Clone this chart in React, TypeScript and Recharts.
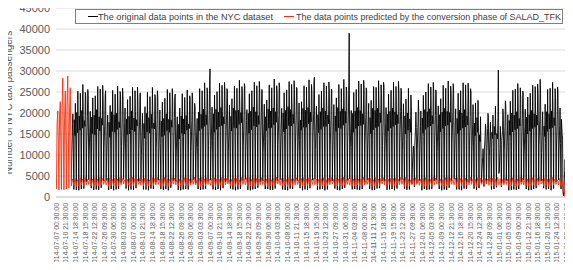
import { LineChart, Line, XAxis, YAxis, CartesianGrid } from 'recharts';

// x axis labels, one every 93 hours starting 2014-07-07 00:30
const tickLabels = [
    '2014-07-07 00:30:00', '2014-07-10 21:30:00', '2014-07-14 18:30:00', '2014-07-18 15:30:00',
    '2014-07-22 12:30:00', '2014-07-26 09:30:00', '2014-07-30 06:30:00', '2014-08-03 03:30:00',
    '2014-08-07 00:30:00', '2014-08-10 21:30:00', '2014-08-14 18:30:00', '2014-08-18 15:30:00',
    '2014-08-22 12:30:00', '2014-08-26 09:30:00', '2014-08-30 06:30:00', '2014-09-03 03:30:00',
    '2014-09-07 00:30:00', '2014-09-10 21:30:00', '2014-09-14 18:30:00', '2014-09-18 15:30:00',
    '2014-09-22 12:30:00', '2014-09-26 09:30:00', '2014-09-30 06:30:00', '2014-10-04 03:30:00',
    '2014-10-08 00:30:00', '2014-10-11 21:30:00', '2014-10-15 18:30:00', '2014-10-19 15:30:00',
    '2014-10-23 12:30:00', '2014-10-27 09:30:00', '2014-10-31 06:30:00', '2014-11-04 03:30:00',
    '2014-11-08 00:30:00', '2014-11-11 21:30:00', '2014-11-15 18:30:00', '2014-11-19 15:30:00',
    '2014-11-23 12:30:00', '2014-11-27 09:30:00', '2014-12-01 06:30:00', '2014-12-05 03:30:00',
    '2014-12-09 00:30:00', '2014-12-12 21:30:00', '2014-12-16 18:30:00', '2014-12-20 15:30:00',
    '2014-12-24 12:30:00', '2014-12-28 09:30:00', '2015-01-01 06:30:00', '2015-01-05 03:30:00',
    '2015-01-09 00:30:00', '2015-01-12 21:30:00', '2015-01-16 18:30:00', '2015-01-20 15:30:00',
    '2015-01-24 12:30:00', '2015-01-28 09:30:00',
];
const tickStepHours = 93;
const totalDays = 208;

const yTicks = [0, 5000, 10000, 15000, 20000, 25000, 30000, 35000, 40000, 45000];

// original series, estimated per day (Mon..Sun per line) at 05:00, 09:00, 16:00, 19:30, 23:30
const origHours = [5, 9, 16, 19.5, 23.5];

const origTrough = [
    null, null, null, null, null, null, 3900,
    1800, 1700, 1600, 1900, 2000, 3600, 4100,
    2100, 1700, 1800, 1700, 2200, 3800, 3900,
    1700, 1900, 1600, 1800, 1900, 3400, 4200,
    2000, 1600, 1800, 1700, 2100, 3700, 3800,
    1800, 1800, 1600, 2000, 1900, 3500, 4000,
    1900, 1700, 1900, 1600, 2200, 3900, 3700,
    1700, 1600, 1800, 1900, 1800, 3300, 4100,
    3300, 1900, 1700, 1800, 2000, 3800, 4000,
    1800, 1700, 1900, 1600, 2100, 3600, 3900,
    2000, 1800, 1600, 1800, 1900, 3900, 4200,
    1700, 1600, 1800, 1900, 2200, 3500, 3800,
    1900, 1900, 1700, 1700, 2000, 3800, 4100,
    1800, 1700, 1600, 2000, 1900, 3700, 3900,
    2100, 1600, 1800, 1700, 2100, 4000, 4200,
    1700, 1800, 1900, 1600, 1800, 3600, 3800,
    2000, 1700, 1600, 1900, 2200, 3900, 4300,
    1800, 1900, 1800, 1700, 1900, 3500, 4000,
    1900, 1600, 1700, 2000, 2100, 3800, 3700,
    1700, 1800, 1900, 1600, 2000, 3700, 4100,
    2000, 1700, 1800, 3100, 2400, 3300, 3900,
    1600, 1900, 1700, 1800, 1900, 3800, 4000,
    1900, 1600, 1800, 1700, 2200, 3900, 4200,
    1800, 1800, 1600, 2000, 1900, 3600, 3800,
    2000, 1700, 2100, 3300, 2500, 3200, 3700,
    1800, 1900, 2300, 5600, 2400, 3400, 3900,
    1600, 1700, 1800, 1700, 1900, 3500, 4000,
    1900, 1600, 1700, 1900, 2100, 3700, 3800,
    2100, 1800, 1900, 1600, 2000, 3600, 4100,
    1900, 300, 1400, 1800, 1900,
];

const origMorning = [
    null, null, null, null, null, null, 10300,
    18400, 20100, 19300, 20600, 18200, 12400, 10100,
    19000, 19500, 20800, 19100, 18700, 11600, 9700,
    17800, 20300, 19600, 19900, 17900, 12000, 10500,
    18600, 19200, 20500, 18800, 18400, 11300, 9900,
    17500, 19900, 18900, 19700, 17600, 11800, 10200,
    18100, 18700, 19800, 18500, 18300, 11100, 9400,
    17300, 19300, 18600, 19400, 17400, 10900, 9800,
    9900, 20200, 19700, 20900, 19600, 12300, 10400,
    19800, 20900, 20200, 21300, 19100, 12600, 10900,
    19200, 21200, 20600, 20700, 20100, 12200, 11100,
    19900, 20400, 21400, 20300, 19400, 12900, 10600,
    19100, 21000, 20500, 21200, 20300, 12500, 11200,
    20000, 20600, 21500, 20800, 19700, 13100, 10800,
    18300, 21100, 20700, 21300, 20200, 12700, 11300,
    19600, 20300, 21200, 20500, 19500, 12400, 10700,
    19300, 21300, 20400, 21000, 20400, 13000, 11000,
    19900, 20500, 21300, 20600, 19800, 12600, 11400,
    18900, 21100, 20600, 21100, 20000, 12300, 10600,
    19700, 20400, 21200, 20300, 19600, 12800, 11100,
    19300, 20000, 18600, 6500, 12200, 11400, 10000,
    18800, 20800, 20300, 21000, 19400, 12500, 10800,
    19600, 20200, 21100, 20400, 20100, 12900, 10500,
    18700, 20700, 20000, 20800, 19300, 12200, 10900,
    17600, 18900, 14800, 5900, 11200, 10700, 9600,
    15400, 16800, 15100, 6200, 13500, 11000, 10300,
    18200, 20000, 19500, 20300, 18700, 11700, 10000,
    19000, 19600, 20600, 19800, 19500, 12300, 10600,
    16900, 20300, 19800, 20500, 18900, 11900, 10200,
    18500, 1400, 16400, 19900, 18600,
];

const origAfternoon = [
    null, null, null, null, null, null, 17200,
    14600, 15300, 15900, 16400, 16800, 19100, 17400,
    15100, 14800, 16200, 15700, 17100, 18600, 16900,
    14200, 15600, 15400, 16100, 16500, 19300, 17700,
    14900, 15000, 16000, 15600, 16900, 18800, 16600,
    14000, 15500, 15200, 16300, 16200, 18400, 17100,
    14400, 14700, 15800, 15400, 16600, 18900, 16400,
    13800, 15200, 15000, 15900, 16300, 18200, 17800,
    16200, 15800, 16300, 16800, 17200, 19600, 17600,
    15400, 16100, 16700, 17000, 17400, 19900, 17900,
    15700, 16500, 16400, 17300, 17700, 19400, 18200,
    15200, 16000, 16900, 16700, 17300, 20100, 17500,
    15800, 16400, 16500, 17200, 17800, 19700, 18000,
    15500, 16200, 17000, 16900, 17500, 20200, 18300,
    15900, 16600, 16600, 17400, 17900, 19800, 17700,
    15300, 16100, 16800, 16800, 17400, 19500, 18100,
    15600, 16500, 16300, 17100, 17600, 20000, 17400,
    15400, 16300, 16900, 17000, 17300, 19600, 18400,
    15100, 16000, 16500, 16800, 17700, 19300, 17800,
    15700, 16400, 16800, 17200, 17500, 20300, 18000,
    15000, 15900, 15400, 10800, 16600, 17900, 16800,
    15200, 16100, 16600, 16900, 17400, 19400, 17600,
    15500, 16300, 16900, 17100, 17800, 20100, 18200,
    15100, 15900, 16400, 16700, 17200, 19200, 17300,
    14600, 15400, 13200, 9400, 14500, 16300, 15200,
    13900, 14800, 13800, 11500, 15800, 17400, 15900,
    14700, 15500, 16000, 16300, 16900, 18700, 16800,
    15000, 15700, 16300, 16600, 17100, 19000, 17200,
    14400, 15600, 16200, 16500, 17000, 18800, 17000,
    14800, 6300, 15600, 16400, 16900,
];

const origPeak = [
    null, null, null, null, null, null, 19800,
    22300, 25200, 24700, 26800, 24900, 25600, 20400,
    23600, 24100, 26300, 25700, 26600, 24300, 19500,
    21800, 25400, 24500, 26400, 25100, 25900, 21200,
    23200, 24000, 26100, 25300, 26200, 24600, 19900,
    21500, 24900, 23900, 26100, 24400, 25300, 20700,
    22600, 23500, 25600, 24800, 25800, 23900, 19100,
    21200, 24600, 23700, 25500, 24100, 24800, 22300,
    18700, 25800, 25300, 27200, 26000, 26500, 21400,
    24300, 25100, 27100, 26600, 27300, 25800, 21900,
    23400, 26400, 25900, 27800, 26300, 27000, 20800,
    24600, 25300, 27300, 26500, 27500, 25600, 22100,
    23100, 26700, 26000, 28100, 26500, 27200, 21100,
    24800, 25500, 27500, 26800, 27700, 26100, 22400,
    22700, 26500, 26200, 27900, 26800, 27400, 21600,
    24400, 25200, 27200, 26400, 27400, 25700, 22000,
    23600, 26800, 25800, 28000, 26200, 27100, 20600,
    24900, 25600, 27600, 26900, 27800, 26000, 22300,
    23000, 26300, 26100, 27700, 26700, 27300, 21300,
    24500, 25400, 27400, 26300, 27500, 25900, 22200,
    23300, 25900, 24300, 12100, 20200, 23100, 20500,
    24200, 25000, 27000, 26200, 27300, 25500, 21700,
    23400, 26600, 25900, 27600, 26400, 27000, 21000,
    24700, 25300, 27200, 26700, 27100, 25800, 22000,
    22400, 23000, 19100, 11500, 17400, 19900, 17800,
    19500, 21600, 18900, 16800, 21000, 22900, 19600,
    22800, 25400, 25700, 27000, 26000, 25200, 20900,
    23800, 24700, 26600, 26300, 26900, 28000, 20300,
    22100, 25600, 25900, 27300, 25800, 26200, 21200,
    14600, 8900, 24300, 26200, 25500,
];

const origNight = [
    null, null, null, null, null, null, 12400,
    13600, 15000, 17400, 19400, 24100, 24200, 12900,
    12900, 16100, 16800, 20600, 23500, 25300, 12300,
    13800, 14800, 17600, 19100, 24400, 23900, 13100,
    12700, 15900, 16600, 20300, 23300, 24800, 12100,
    13500, 14600, 17100, 19000, 23900, 23700, 12800,
    12400, 15500, 16200, 19800, 22800, 24500, 11900,
    13200, 14400, 16900, 18800, 23600, 23500, 21200,
    11800, 16400, 17800, 20900, 24600, 30500, 13400,
    14500, 15900, 18400, 20400, 25300, 25200, 13000,
    13800, 16900, 17600, 21500, 24700, 26300, 14100,
    14700, 16100, 18600, 20600, 25500, 25400, 13300,
    13900, 17000, 17700, 21400, 24900, 26100, 14200,
    14900, 16300, 18800, 20800, 25600, 25700, 13500,
    13700, 16800, 17500, 21300, 24800, 28500, 14000,
    14600, 16200, 18500, 20700, 25400, 25500, 13400,
    13800, 16900, 17600, 21600, 24900, 39000, 11800,
    14800, 16400, 18700, 20900, 25700, 25600, 13600,
    13600, 16700, 17400, 21200, 24600, 26400, 14100,
    14500, 16100, 18600, 20500, 25300, 25300, 13200,
    13700, 16500, 21500, 10200, 16500, 19800, 12400,
    14400, 16000, 18300, 20600, 25200, 25100, 13300,
    13500, 16800, 17300, 21400, 24700, 26200, 13900,
    14300, 15900, 18500, 20300, 25000, 25000, 13100,
    13000, 15600, 11200, 9600, 15900, 19000, 11500,
    11800, 14500, 30200, 12500, 19500, 21800, 12100,
    13200, 15700, 16700, 20200, 23600, 24900, 12600,
    13900, 15400, 17600, 19900, 24300, 24600, 13300,
    12800, 16000, 16900, 20400, 23700, 25100, 12700,
    1100, 7800, 16600, 20000, 23300,
];

// predicted series, estimated per day at 05:00, 11:00 and 18:00
const predHours = [5, 11, 18];

const predLow = [
    1900, 1700, 1800, 1700, 1900, 2100, 2600,
    2700, 2500, 2600, 2800, 2500, 2900, 3000,
    2600, 2500, 2700, 2600, 2800, 3000, 2900,
    2500, 2700, 2600, 2500, 2700, 2900, 3100,
    2600, 2800, 2500, 2700, 2600, 3000, 2800,
    2700, 2500, 2600, 2800, 2700, 2900, 3000,
    2500, 2600, 2700, 2500, 2800, 3100, 2900,
    2600, 2500, 2800, 2600, 2700, 2900, 3000,
    2900, 2600, 2500, 2700, 2600, 3000, 2800,
    2700, 2500, 2600, 2800, 2500, 2900, 3100,
    2600, 2700, 2500, 2600, 2800, 3000, 2900,
    2500, 2600, 2700, 2500, 2700, 2900, 3000,
    2700, 2500, 2600, 2800, 2600, 3100, 2800,
    2600, 2800, 2500, 2700, 2500, 2900, 3000,
    2500, 2600, 2700, 2600, 2800, 3000, 2900,
    2700, 2500, 2600, 2800, 2600, 2900, 3100,
    2600, 2700, 2500, 2600, 2700, 3000, 2800,
    2500, 2600, 2800, 2500, 2700, 2900, 3000,
    2700, 2500, 2600, 2700, 2600, 3100, 2900,
    2600, 2800, 2500, 2600, 2800, 2900, 3000,
    2500, 2600, 2700, 2900, 2700, 3000, 2800,
    2700, 2500, 2600, 2800, 2500, 2900, 3100,
    2600, 2700, 2500, 2600, 2700, 3000, 2900,
    2500, 2600, 2700, 2500, 2800, 2900, 3000,
    2700, 2500, 2800, 3000, 2700, 3100, 2800,
    2600, 2700, 2600, 2900, 2600, 2900, 3000,
    2500, 2600, 2700, 2500, 2700, 3000, 2900,
    2700, 2500, 2600, 2800, 2600, 2900, 3100,
    2600, 2700, 2500, 2600, 2800, 3000, 2900,
    2600, 1200, 8800, 5600, 3900,
];

const predMid = [
    17500, 19800, 21200, 18600, 22400, 20100, 3600,
    3500, 3800, 3300, 3900, 3600, 3400, 3700,
    3800, 3400, 3700, 3500, 3900, 3600, 3300,
    3400, 3900, 3600, 3800, 3500, 3700, 3800,
    3700, 3500, 3400, 3600, 3800, 3300, 3900,
    3600, 3800, 3700, 3400, 3500, 3900, 3600,
    3900, 3400, 3600, 3700, 3300, 3800, 3500,
    3500, 3700, 3900, 3600, 3800, 3400, 3700,
    3300, 3600, 3500, 3800, 3400, 3900, 3600,
    3800, 3500, 3700, 3400, 3600, 3700, 3900,
    3600, 3900, 3400, 3700, 3500, 3800, 3400,
    3400, 3600, 3800, 3500, 3900, 3500, 3700,
    3700, 3400, 3600, 3900, 3500, 3600, 3800,
    3500, 3800, 3300, 3600, 3700, 3900, 3500,
    3900, 3500, 3700, 3400, 3800, 3600, 3700,
    3600, 3700, 3500, 3800, 3400, 3700, 3600,
    3400, 3900, 3600, 3500, 3700, 3800, 3500,
    3700, 3500, 3800, 3600, 3900, 3400, 3600,
    3500, 3600, 3400, 3800, 3600, 3700, 3900,
    3800, 3400, 3700, 3500, 3600, 3900, 3500,
    3600, 3700, 3500, 3900, 3800, 3500, 3700,
    3400, 3800, 3600, 3700, 3500, 3600, 3800,
    3700, 3500, 3900, 3400, 3600, 3800, 3600,
    3500, 3700, 3600, 3800, 3400, 3700, 3900,
    3800, 3600, 3400, 3500, 3700, 3900, 3500,
    3600, 3400, 3800, 3700, 3500, 3600, 3700,
    3900, 3700, 3500, 3600, 3800, 3400, 3600,
    3500, 3600, 3700, 3900, 3500, 3800, 3400,
    3700, 3800, 3400, 3600, 3700, 3500, 3800,
    3400, 2000, 12600, 9000, 7600,
];

const predHigh = [
    20500, 22700, 28300, 25200, 28800, 26000, 4300,
    4400, 4100, 4600, 4300, 4700, 4200, 4500,
    4300, 4600, 4200, 4700, 4400, 4100, 4500,
    4600, 4200, 4500, 4300, 4700, 4400, 4100,
    4200, 4500, 4700, 4400, 4300, 4600, 4200,
    4500, 4300, 4100, 4600, 4400, 4700, 4300,
    4400, 4700, 4300, 4200, 4600, 4500, 4100,
    4300, 4100, 4600, 4500, 4200, 4400, 4700,
    4100, 4400, 4700, 4300, 4600, 4200, 4500,
    4600, 4300, 4200, 4700, 4400, 4500, 4100,
    4200, 4500, 4400, 4100, 4700, 4300, 4600,
    4700, 4200, 4500, 4400, 4300, 4600, 4200,
    4300, 4600, 4100, 4500, 4700, 4200, 4400,
    4500, 4200, 4700, 4300, 4400, 4600, 4100,
    4400, 4700, 4300, 4600, 4200, 4500, 4300,
    4200, 4400, 4600, 4100, 4500, 4700, 4200,
    4600, 4300, 4500, 4700, 4200, 4400, 4600,
    4300, 4600, 4200, 4400, 4700, 4100, 4500,
    4500, 4100, 4700, 4300, 4400, 4600, 4200,
    4200, 4500, 4400, 4600, 4300, 4700, 4400,
    4700, 4300, 4100, 4500, 4600, 4200, 4300,
    4400, 4600, 4300, 4200, 4700, 4500, 4100,
    4300, 4200, 4600, 4700, 4400, 4100, 4500,
    4600, 4400, 4200, 4500, 4300, 4700, 4200,
    4200, 4700, 4500, 4100, 4400, 4300, 4600,
    4500, 4300, 4700, 4400, 4200, 4600, 4300,
    4400, 4600, 4200, 4300, 4700, 4500, 4100,
    4300, 4500, 4600, 4200, 4400, 4700, 4300,
    4600, 4200, 4400, 4700, 4300, 4100, 4500,
    3800, 0, 14300, 12100, 9800,
];

const buildRows = (series: (number | null)[][], hours: number[]) => {
    const rows: { t: number; v: number }[] = [];
    for (let d = 0; d < totalDays; d++) {
        series.forEach((arr, k) => {
            const v = arr[d];
            if (v == null) return;
            rows.push({ t: d + (hours[k] - 0.5) / 24, v });
        });
    }
    return rows;
};

const origData = buildRows([origTrough, origMorning, origAfternoon, origPeak, origNight], origHours);
const predData = buildRows([predLow, predMid, predHigh], predHours);
const xTicks = tickLabels.map((_, i) => (i * tickStepHours) / 24);

const FONT = '"Liberation Sans", Arial, sans-serif';
const TEXT = '#595959';
const RED = '#f4300f';

// y from recharts already includes tick size + margin
const XTick = ({ x, y, index }: any) => (
    <text
        x={x}
        y={y - 2}
        transform={`rotate(-90, ${x}, ${y - 2})`}
        textAnchor="end"
        dy="0.35em"
        fontSize={7.5}
        fontFamily={FONT}
        fill={TEXT}
        textLength={64}
        lengthAdjust="spacingAndGlyphs"
    >
        {tickLabels[index]}
    </text>
);

const YTick = ({ x, y, payload }: any) => (
    <text x={x} y={y} textAnchor="end" dy="0.35em" fontSize={11} fontFamily={FONT} fill={TEXT}>
        {payload.value}
    </text>
);

const YTitle = ({ viewBox }: any) => {
    const cx = 8;
    const cy = viewBox.y + viewBox.height / 2;
    return (
        <text
            x={cx}
            y={cy}
            transform={`rotate(-90, ${cx}, ${cy})`}
            textAnchor="middle"
            dy="0.35em"
            fontSize={10}
            fontFamily={FONT}
            fill={TEXT}
        >
            Number of NYC taxi passengers
        </text>
    );
};

const LegendBox = () => (
    <svg width={489} height={16} style={{ position: 'absolute', left: 75, top: 9 }}>
        <rect x={0.5} y={0.5} width={487} height={14} fill="#fff" stroke="#7f7f7f" />
        <line x1={13} x2={23} y1={7.5} y2={7.5} stroke="#000" strokeWidth={1} />
        <text x={23} y={10.8} fontSize={9} fontFamily={FONT} fill="#404040" textLength={175} lengthAdjust="spacingAndGlyphs">
            The original data points in the NYC dataset
        </text>
        <line x1={209} x2={219} y1={7.5} y2={7.5} stroke={RED} strokeWidth={1} />
        <text x={221} y={10.8} fontSize={9} fontFamily={FONT} fill="#404040" textLength={265} lengthAdjust="spacingAndGlyphs">
            The data points predicted by the conversion phase of SALAD_TFK
        </text>
    </svg>
);

const App = () => {
    return (
        <div style={{ position: 'relative', width: 573, height: 270, margin: -8, background: '#fff' }}>
            <LineChart width={573} height={270} margin={{ top: 8, right: 0, bottom: 0, left: 0 }}>
                <CartesianGrid vertical={false} stroke="#d9d9d9" />
                <XAxis
                    type="number"
                    dataKey="t"
                    domain={[0, totalDays]}
                    ticks={xTicks}
                    interval={0}
                    tick={<XTick />}
                    tickLine={false}
                    axisLine={{ stroke: '#d0d0d0' }}
                    height={73}
                    allowDataOverflow
                />
                <YAxis
                    type="number"
                    domain={[0, 45000]}
                    ticks={yTicks}
                    interval={0}
                    width={56}
                    tick={<YTick />}
                    tickLine={false}
                    tickSize={0}
                    tickMargin={6}
                    axisLine={false}
                    label={<YTitle />}
                />
                <Line
                    data={origData}
                    dataKey="v"
                    type="linear"
                    stroke="#000"
                    strokeWidth={0.9}
                    dot={false}
                    isAnimationActive={false}
                />
                <Line
                    data={predData}
                    dataKey="v"
                    type="linear"
                    stroke={RED}
                    strokeWidth={0.9}
                    dot={false}
                    isAnimationActive={false}
                />
            </LineChart>
            <LegendBox />
        </div>
    );
};

export default App;
